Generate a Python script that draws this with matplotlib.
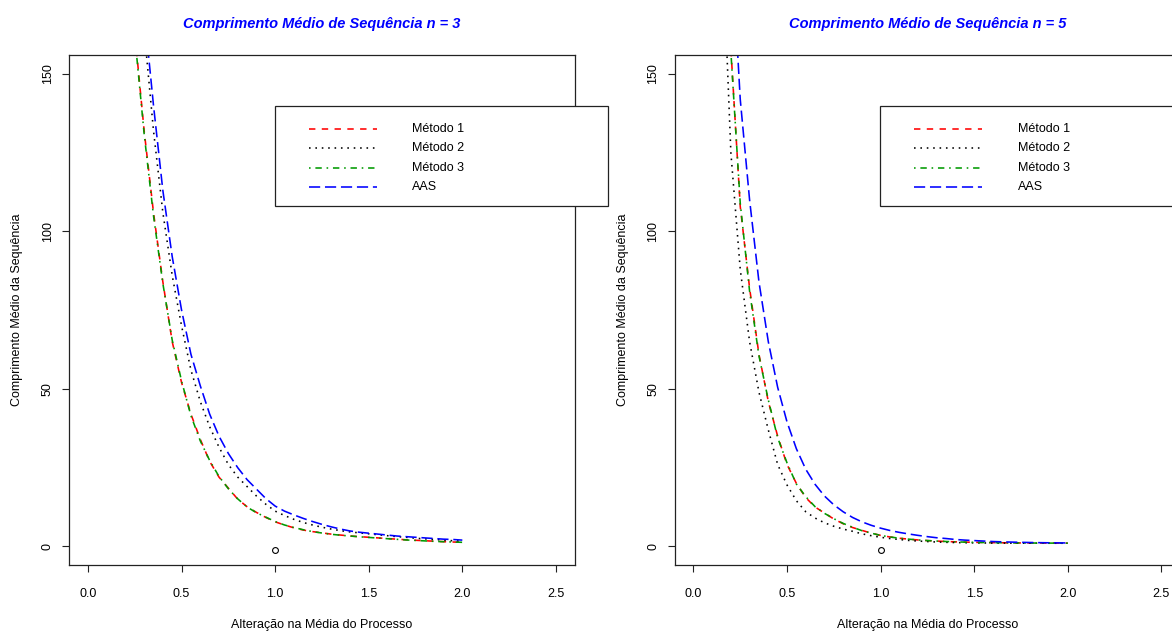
import matplotlib
matplotlib.use("Agg")
import matplotlib.pyplot as plt
from matplotlib.lines import Line2D
from matplotlib.patches import Rectangle

plt.rcParams["font.family"] = ["Liberation Sans", "DejaVu Sans"]

# shift in the process mean (in standard deviations)
shift = [0.10, 0.15, 0.20, 0.25, 0.30, 0.35, 0.40, 0.45, 0.50, 0.55,
         0.60, 0.65, 0.70, 0.75, 0.80, 0.85, 0.90, 0.95, 1.00, 1.05,
         1.10, 1.15, 1.20, 1.25, 1.30, 1.35, 1.40, 1.45, 1.50, 1.55,
         1.60, 1.65, 1.70, 1.75, 1.80, 1.85, 1.90, 1.95, 2.00]

# average run length, sample size n = 3
met1_n3 = [320, 260, 205, 163, 132, 106, 84, 65, 52, 42, 34, 27, 22, 18.5, 15,
           12.6, 10.8, 9.2, 7.8, 6.8, 5.9, 5.2, 4.7, 4.3, 3.9, 3.6, 3.3, 3.1,
           2.9, 2.7, 2.5, 2.3, 2.1, 1.95, 1.8, 1.65, 1.5, 1.4, 1.3]
met2_n3 = [360, 330, 290, 225, 164, 132, 106, 86, 70, 56, 46, 38, 31.5, 26, 22,
           19, 16, 13.4, 11.2, 9.8, 8.6, 7.6, 6.8, 6.1, 5.5, 5.0, 4.6, 4.3,
           4.0, 3.7, 3.4, 3.1, 2.9, 2.6, 2.4, 2.2, 2.0, 1.8, 1.7]
met3_n3 = [318, 258, 203, 162, 131, 105, 83.5, 65.5, 52.5, 41.5, 33.5, 27.3,
           22.2, 18.3, 15.1, 12.5, 10.7, 9.3, 7.9, 6.8, 6.0, 5.3, 4.7, 4.25,
           3.85, 3.55, 3.3, 3.05, 2.85, 2.65, 2.45, 2.25, 2.05, 1.9, 1.75, 1.6,
           1.5, 1.4, 1.3]
aas_n3 = [370, 345, 310, 240, 170, 140, 113, 92, 75, 61, 51, 42, 35, 29.5, 25,
          21.2, 18.2, 15.2, 12.8, 11.2, 10, 8.9, 7.9, 7.0, 6.2, 5.5, 4.9, 4.5,
          4.2, 3.9, 3.6, 3.3, 3.1, 2.9, 2.7, 2.5, 2.3, 2.2, 2.0]

# average run length, sample size n = 5
met1_n5 = [330, 220, 158, 108, 82, 61, 46, 35, 26, 20, 15.5, 12.5, 10.6, 8.7,
           7.2, 6.0, 5.1, 4.2, 3.5, 3.0, 2.6, 2.3, 2.05, 1.85, 1.7, 1.55, 1.45,
           1.37, 1.3, 1.25, 1.2, 1.16, 1.13, 1.1, 1.08, 1.06, 1.05, 1.04, 1.03]
met2_n5 = [300, 200, 125, 88, 65, 49, 37, 26, 19.5, 14.5, 11, 9.0, 7.5, 6.4,
           5.5, 4.8, 4.0, 3.4, 2.9, 2.5, 2.2, 1.9, 1.7, 1.55, 1.4, 1.3, 1.22,
           1.16, 1.12, 1.09, 1.06, 1.05, 1.04, 1.03, 1.02, 1.02, 1.01, 1.01, 1.01]
met3_n5 = [325, 218, 157, 109, 81, 60.5, 46.5, 34.5, 26.5, 19.8, 15.8, 12.6,
           10.5, 8.8, 7.3, 6.1, 5.0, 4.2, 3.5, 3.0, 2.6, 2.3, 2.05, 1.85, 1.7,
           1.56, 1.45, 1.36, 1.3, 1.24, 1.2, 1.16, 1.12, 1.1, 1.08, 1.06, 1.05,
           1.04, 1.03]
aas_n5 = [400, 290, 195, 142, 110, 84, 65, 50.5, 39.5, 31, 24.5, 19.7, 16, 13.2,
          11, 9.2, 7.8, 6.7, 5.8, 5.05, 4.45, 3.95, 3.5, 3.1, 2.75, 2.5, 2.2,
          2.0, 1.85, 1.7, 1.55, 1.45, 1.37, 1.3, 1.24, 1.19, 1.15, 1.12, 1.1]

series_names = ["Método 1", "Método 2", "Método 3", "AAS"]
xticks = [0.0, 0.5, 1.0, 1.5, 2.0, 2.5]
yticks = [0, 50, 100, 150]
# stray point left over from the initial plot() call
stray_x, stray_y = 1.0, -1.2

COLORS = ["#FF0000", "#000000", "#009A00", "#0000FF"]
# R line types: dashed, dotted, dotdash, longdash
STYLES = [(0, (4, 4)), (0, (1, 3)), (0, (1, 3, 4, 3)), (0, (7, 3))]
LW = 1.15
FS = 9


def draw_panel(ax, curves, n):
    for y, c, ls in zip(curves, COLORS, STYLES):
        ax.plot(shift, y, color=c, linestyle=ls, linewidth=LW)
    ax.plot([stray_x], [stray_y], "o", mfc="none", mec="black", ms=4.2, mew=0.8)

    ax.set_xlim(-0.1, 2.6)
    ax.set_ylim(-6, 156)
    ax.set_xticks(xticks)
    ax.set_xticklabels([f"{t:.1f}" for t in xticks], fontsize=FS)
    ax.set_yticks(yticks)
    ax.set_yticklabels([str(t) for t in yticks], fontsize=FS, rotation=90, va="center")
    ax.tick_params(axis="both", direction="out", length=5.2, width=0.8, color="#222222")
    ax.tick_params(axis="x", pad=11)
    ax.tick_params(axis="y", pad=6)
    for s in ax.spines.values():
        s.set_linewidth(0.9)
        s.set_color("#222222")

    ax.text(0.5, 1.061, f"Comprimento Médio de Sequência n = {n}",
            transform=ax.transAxes, ha="center", va="center", color="#0000FF",
            fontsize=10.5, fontweight="bold", fontstyle="italic")
    ax.text(0.5, -0.117, "Alteração na Média do Processo", transform=ax.transAxes,
            ha="center", va="center", fontsize=FS)
    ax.text(-0.103, 0.5, "Comprimento Médio da Sequência", transform=ax.transAxes,
            ha="center", va="center", rotation=90, fontsize=FS)

    # legend box, drawn by hand so it can run past the plot frame
    ax.add_patch(Rectangle((0.407, 0.704), 0.66, 0.1966, transform=ax.transAxes,
                           facecolor="white", edgecolor="#222222", linewidth=0.9,
                           clip_on=False, zorder=3))
    for i, (name, c, ls) in enumerate(zip(series_names, COLORS, STYLES)):
        yy = 0.855 - i * 0.0381
        ax.add_line(Line2D([0.474, 0.609], [yy, yy], transform=ax.transAxes, color=c,
                           linestyle=ls, linewidth=LW, clip_on=False, zorder=4))
        ax.text(0.679, yy, name, transform=ax.transAxes, ha="left", va="center",
                fontsize=FS, zorder=4)


fig = plt.figure(figsize=(11.72, 6.31), dpi=100)
ax1 = fig.add_axes([0.0591, 0.1041, 0.4312, 0.8087])
ax2 = fig.add_axes([0.5757, 0.1041, 0.4312, 0.8087])

draw_panel(ax1, [met1_n3, met2_n3, met3_n3, aas_n3], 3)
draw_panel(ax2, [met1_n5, met2_n5, met3_n5, aas_n5], 5)

fig.savefig("out.png", dpi=100)
